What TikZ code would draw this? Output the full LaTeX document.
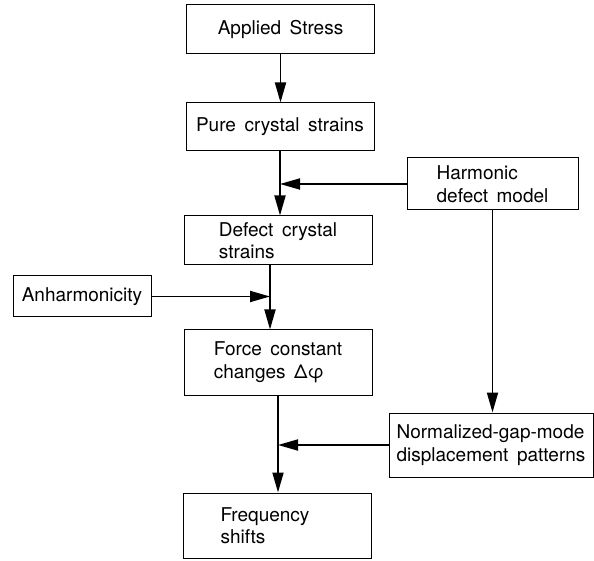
\documentclass[tikz,border=0pt]{standalone}
\usepackage{fontspec}
\setmainfont{TeX Gyre Heros}
\usetikzlibrary{arrows.meta}
\newcommand\widesp{\spaceskip=0.45em plus 0.1em\relax}

\begin{document}
\begin{tikzpicture}[x=1pt,y=1pt,
        box/.style={draw,rectangle,line width=1pt,inner sep=2pt,minimum width=188pt,
            font=\fontsize{19}{22.5}\selectfont\widesp},
        flow/.style={draw,line width=1.8pt,-{Triangle[length=20pt,width=11pt]}}]
        \useasboundingbox (0,0) rectangle (594,560);

        \node[box,minimum height=49pt] (AS) at (280.5,530.5) {Applied Stress};
        \node[box,minimum height=48pt] (PS) at (280,433) {Pure crystal strains};
        \node[box,minimum height=49pt,align=left] (DS) at (278,319.5) {Defect crystal\\strains};
        \node[box,minimum width=171pt,minimum height=52pt,align=left] (HD) at (492.5,376) {Harmonic\\defect model};
        \node[box,minimum width=138pt,minimum height=41pt] (AN) at (82,263.5) {Anharmonicity};
        \node[box,minimum height=65pt,align=left] (FC) at (278,197.5) {Force constant\\changes Δφ};
        \node[box,minimum width=204pt,minimum height=64pt,align=left] (NG) at (491,115) {Normalized-gap-mode\\displacement patterns};
        \node[box,minimum height=65pt,align=left,text width=113pt] (FS) at (277,34.5) {Frequency\\shifts};

        \coordinate (J1) at (PS.south |- HD.west);
        \coordinate (J2) at (270,263.5);
        \coordinate (J3) at (FC.south |- NG.west);

        \path [flow] (AS.south) -- (AS.south |- PS.north);
        \path [flow] (PS.south) -- (PS.south |- DS.north);
        \path [flow] (HD.west) -- (J1);
        \path [flow] (DS.south -| J2) -- (FC.north -| J2);
        \path [flow] (AN.east) -- (J2);
        \path [flow] (HD.south) -- (HD.south |- NG.north);
        \path [flow] (FC.south) -- (FC.south |- FS.north);
        \path [flow] (NG.west) -- (J3);
    \end{tikzpicture}
\end{document}
